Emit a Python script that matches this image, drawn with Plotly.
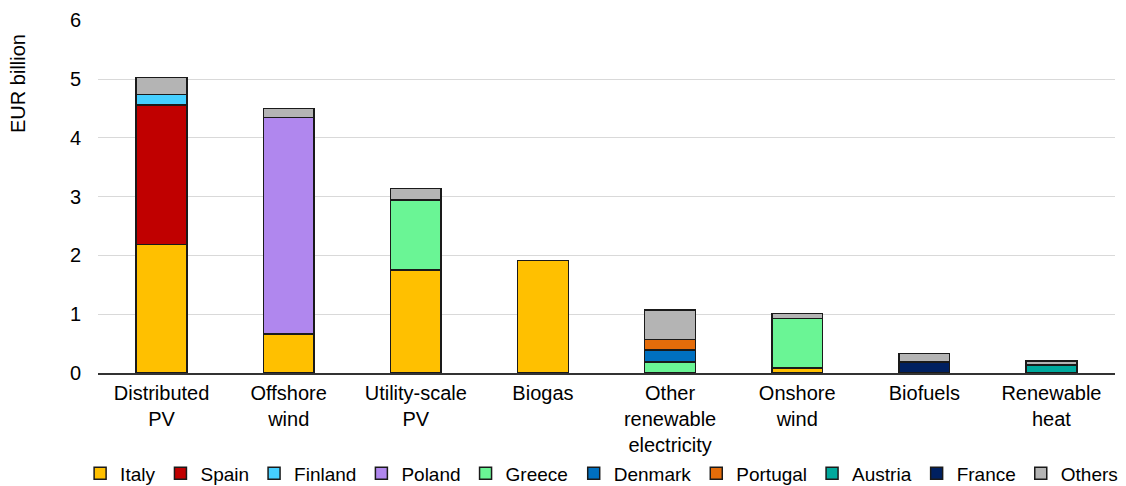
import plotly.graph_objects as go

categories = ["Distributed<br>PV", "Offshore<br>wind", "Utility-scale<br>PV", "Biogas",
              "Other<br>renewable<br>electricity", "Onshore<br>wind", "Biofuels", "Renewable<br>heat"]

italy    = [2.19, 0.66, 1.75, 1.91, 0.00, 0.085, 0.00, 0.00]
spain    = [2.37, 0.00, 0.00, 0.00, 0.00, 0.00, 0.00, 0.00]
finland  = [0.18, 0.00, 0.00, 0.00, 0.00, 0.00, 0.00, 0.00]
poland   = [0.00, 3.69, 0.00, 0.00, 0.00, 0.00, 0.00, 0.00]
greece   = [0.00, 0.00, 1.19, 0.00, 0.19, 0.845, 0.00, 0.00]
denmark  = [0.00, 0.00, 0.00, 0.00, 0.20, 0.00, 0.00, 0.00]
portugal = [0.00, 0.00, 0.00, 0.00, 0.18, 0.00, 0.00, 0.00]
austria  = [0.00, 0.00, 0.00, 0.00, 0.00, 0.00, 0.00, 0.14]
france   = [0.00, 0.00, 0.00, 0.00, 0.00, 0.00, 0.19, 0.00]
others   = [0.29, 0.15, 0.20, 0.00, 0.50, 0.08, 0.14, 0.06]

series = [
    ("Italy", italy, "#FFC000"),
    ("Spain", spain, "#C00000"),
    ("Finland", finland, "#45CFFF"),
    ("Poland", poland, "#B087EE"),
    ("Greece", greece, "#6AF595"),
    ("Denmark", denmark, "#0070C0"),
    ("Portugal", portugal, "#E46C0A"),
    ("Austria", austria, "#00A99D"),
    ("France", france, "#002060"),
    ("Others", others, "#B4B4B4"),
]

y_ticks = [0, 1, 2, 3, 4, 5, 6]
y_title = "EUR billion"

fig = go.Figure()
for i, (name, vals, color) in enumerate(series):
    fig.add_trace(go.Bar(
        x=categories, y=[v if v > 0 else None for v in vals], name=name,
        marker=dict(color=color, line=dict(color="#1a1a1a", width=1.5)),
        width=0.4,
        legend="legend" if i < 5 else "legend2",
    ))

fig.add_annotation(
    text=y_title, xref="paper", yref="paper", x=-0.0787, y=0.8215,
    xanchor="center", yanchor="middle", textangle=-90, showarrow=False,
    font=dict(size=20),
)

legend_common = dict(
    orientation="h", xref="container", xanchor="left",
    yref="container", y=0.066, yanchor="top",
    font=dict(size=19), itemwidth=30, traceorder="normal", tracegroupgap=0,
    bgcolor="rgba(0,0,0,0)",
)

fig.update_layout(
    barmode="stack",
    width=1118, height=478,
    margin=dict(l=90, r=11, t=12, b=113, autoexpand=False),
    plot_bgcolor="white", paper_bgcolor="white",
    font=dict(family="Liberation Sans, Arial, sans-serif", size=20, color="#000000"),
    yaxis=dict(
        range=[0, 6.005], tickvals=y_ticks, showgrid=True, gridcolor="#d9d9d9", gridwidth=1,
        zeroline=False, showline=False, ticks="", ticklabelstandoff=16, automargin=False,
    ),
    xaxis=dict(
        showline=True, linecolor="#333333", linewidth=1.5, ticks="", automargin=False,
        tickfont=dict(size=20), ticklabelstandoff=1,
    ),
    legend=dict(legend_common, x=0.0645),
    legend2=dict(legend_common, x=0.506),
    bargap=0.6,
)

fig.write_html("out.html")
